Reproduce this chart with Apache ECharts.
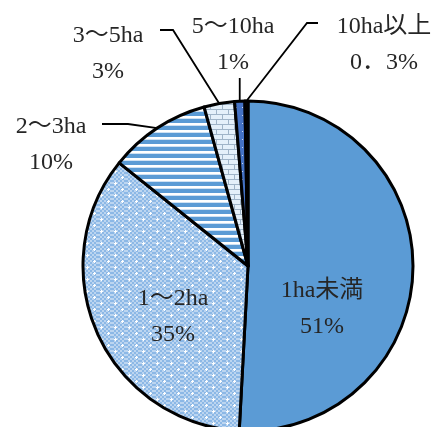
<!DOCTYPE html>
<html>
<head>
<meta charset="utf-8">
<script src="https://cdn.jsdelivr.net/npm/echarts@6/dist/echarts.min.js"></script>
<style>
  html, body { margin: 0; padding: 0; background: #fff; }
  #chart { width: 439px; height: 427px; }
</style>
</head>
<body>
<div id="chart"></div>
<script>
// Farm size classes and their share of farms (%)
const categories = ['1ha未満', '1～2ha', '2～3ha', '3～5ha', '5～10ha', '10ha以上'];
const shares = [51, 35, 10, 3, 1, 0.3];

// Fill patterns -------------------------------------------------------
function makeTile(w, h, draw) {
  const c = document.createElement('canvas');
  c.width = w; c.height = h;
  draw(c.getContext('2d'), w, h);
  return { image: c, repeat: 'repeat' };
}

// fine checker with white sparkle crosses
const dottedBlue = makeTile(14, 12, (g, w, h) => {
  for (let y = 0; y < h; y += 2) {
    for (let x = 0; x < w; x += 2) {
      g.fillStyle = ((x + y) / 2) % 2 === 0 ? '#8cb8e6' : '#bcd5f0';
      g.fillRect(x, y, 2, 2);
    }
  }
  g.fillStyle = '#ffffff';
  [[3, 3], [10, 9]].forEach(([cx, cy]) => {
    g.fillRect(cx - 1, cy, 3, 1);
    g.fillRect(cx, cy - 1, 1, 3);
  });
});

// horizontal stripes
const stripedBlue = makeTile(4, 7, (g, w, h) => {
  g.fillStyle = '#5b9bd5';
  g.fillRect(0, 0, w, h);
  g.fillStyle = '#ffffff';
  g.fillRect(0, 4, w, 2);
  g.fillStyle = '#cfe1f3';
  g.fillRect(0, 6, w, 1);
});

// brick wall
const brick = makeTile(12, 10, (g, w, h) => {
  g.fillStyle = '#e4f0fa';
  g.fillRect(0, 0, w, h);
  g.fillStyle = '#9fb4c8';
  g.fillRect(0, 4, w, 1);
  g.fillRect(0, 9, w, 1);
  g.fillRect(0, 0, 1, 4);
  g.fillRect(6, 5, 1, 4);
});

// darker blue with sparse light dots
const darkDots = makeTile(6, 8, (g, w, h) => {
  g.fillStyle = '#4472c4';
  g.fillRect(0, 0, w, h);
  g.fillStyle = '#c8d8f0';
  g.fillRect(2, 3, 1, 1);
});

const fills = ['#5b9bd5', dottedBlue, stripedBlue, brick, darkDots, '#1f3a1f'];

// Label placement (block centres) and leader-line bends
const labelSpots = [
  { x: 322, y: 309 },
  { x: 173, y: 317 },
  { x: 51, y: 145, bend: () => [[128, 124], [102, 124]] },
  { x: 108, y: 54, bend: () => [[173, 30], [160, 30]] },
  { x: 233, y: 45, bend: (s) => [[s[0], 78], [s[0], 78]] },
  { x: 384, y: 45, bend: () => [[307, 23], [318, 23]] }
];

function pctText(v) {
  return String(v).replace('.', '．') + '%';
}

const data = categories.map((name, i) => {
  const inside = i < 2;
  return {
    name: name,
    value: shares[i],
    itemStyle: { color: fills[i] },
    label: { position: inside ? 'inside' : 'outside' },
    labelLine: { show: !inside }
  };
});

const chart = echarts.init(document.getElementById('chart'), null, { renderer: 'canvas' });
chart.setOption({
  animation: false,
  backgroundColor: '#ffffff',
  series: [{
    type: 'pie',
    center: [248, 266],
    radius: 165,
    startAngle: 90,
    clockwise: true,
    avoidLabelOverlap: false,
    data: data,
    itemStyle: { borderColor: '#000000', borderWidth: 3 },
    emphasis: { disabled: true },
    label: {
      show: true,
      formatter: (p) => p.name + '\n' + pctText(p.value),
      fontFamily: '"Liberation Serif", "Noto Sans CJK JP", serif',
      fontSize: 24,
      lineHeight: 36,
      color: '#262626',
      align: 'center'
    },
    labelLine: {
      show: true,
      length: 20,
      length2: 10,
      lineStyle: { color: '#000000', width: 1.8 }
    },
    labelLayout: function (p) {
      const spot = labelSpots[p.dataIndex];
      const out = { x: spot.x, y: spot.y, align: 'center', verticalAlign: 'middle' };
      if (spot.bend && p.labelLinePoints) {
        const s = p.labelLinePoints[0];
        out.labelLinePoints = [s].concat(spot.bend(s));
      }
      return out;
    }
  }]
});
</script>
</body>
</html>
